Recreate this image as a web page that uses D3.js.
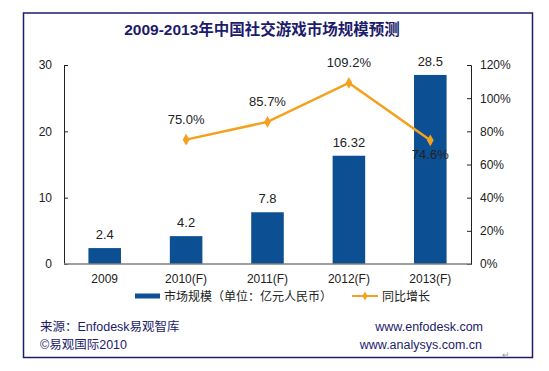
<!DOCTYPE html>
<html>
<head>
<meta charset="utf-8">
<script src="https://cdn.jsdelivr.net/npm/d3@7"></script>
<style>
	body { margin: 0; background: #fff; }
	svg text { font-family: Arial, "Liberation Sans", "Noto Sans CJK SC", sans-serif; }
</style>
</head>
<body>
<div id="chart"></div>
<script>
	var years = ["2009", "2010(F)", "2011(F)", "2012(F)", "2013(F)"],
		market = [2.4, 4.2, 7.8, 16.32, 28.5],
		marketLabels = ["2.4", "4.2", "7.8", "16.32", "28.5"],
		growth = [null, 75.0, 85.7, 109.2, 74.6],
		leftTicks = [0, 10, 20, 30],
		rightTicks = [0, 20, 40, 60, 80, 100, 120];

	(function() {
		'use strict';

		var width = 549,
			height = 371,
			left = 64,
			right = 471,
			top = 65,
			bottom = 264,
			navy = "#1c1c6a",
			blue = "#0c5093",
			orange = "#f5a01e",
			svg, x, y, y2, line, points, gl, gr, lg, ft;

		svg = d3.select("#chart")
			.append("svg")
			.attr("width", width)
			.attr("height", height);

		// frame
		svg.append("rect")
			.attr("x", 23.5)
			.attr("y", 13)
			.attr("width", 509)
			.attr("height", 344.5)
			.attr("fill", "none")
			.attr("stroke", navy)
			.attr("stroke-width", 1.5);

		svg.append("text")
			.attr("x", 262)
			.attr("y", 35)
			.attr("text-anchor", "middle")
			.attr("font-size", 15.5)
			.attr("font-weight", "bold")
			.attr("fill", navy)
			.text("2009-2013年中国社交游戏市场规模预测");

		x = d3.scaleBand()
			.domain(years)
			.range([left, right])
			.paddingInner(0.6)
			.paddingOuter(0.3);
		y = d3.scaleLinear().domain([0, 30]).range([bottom, top]);
		y2 = d3.scaleLinear().domain([0, 120]).range([bottom, top]);

		function cx(i) { return x(years[i]) + x.bandwidth() / 2; }

		// bars
		svg.append("g")
			.selectAll("rect")
			.data(market)
			.join("rect")
			.attr("x", function(d, i) { return x(years[i]); })
			.attr("y", function(d) { return y(d); })
			.attr("width", x.bandwidth())
			.attr("height", function(d) { return bottom - y(d); })
			.attr("fill", blue);

		svg.append("g")
			.selectAll("text")
			.data(market)
			.join("text")
			.attr("x", function(d, i) { return cx(i); })
			.attr("y", function(d) { return y(d) - 9; })
			.attr("text-anchor", "middle")
			.attr("font-size", 13)
			.attr("fill", "#222")
			.text(function(d, i) { return marketLabels[i]; });

		// left axis
		gl = svg.append("g")
			.attr("transform", "translate(" + left + ",0)")
			.call(d3.axisLeft(y).tickValues(leftTicks).tickSizeInner(-4).tickSizeOuter(-4).tickPadding(12));
		gl.select(".domain").attr("stroke", "#222");
		gl.selectAll(".tick line").attr("stroke", "#222");
		gl.selectAll("text").attr("font-size", 12).attr("fill", "#222").attr("font-family", "Arial, sans-serif");

		// right axis
		gr = svg.append("g")
			.attr("transform", "translate(" + right + ",0)")
			.call(d3.axisRight(y2).tickValues(rightTicks).tickSizeInner(-4).tickSizeOuter(-4).tickPadding(9)
				.tickFormat(function(d) { return d + "%"; }));
		gr.select(".domain").attr("stroke", "#222");
		gr.selectAll(".tick line").attr("stroke", "#222");
		gr.selectAll("text").attr("font-size", 12).attr("fill", "#222").attr("font-family", "Arial, sans-serif");

		// baseline
		svg.append("line")
			.attr("x1", left)
			.attr("x2", right)
			.attr("y1", y(0))
			.attr("y2", y(0))
			.attr("stroke", "#808080")
			.attr("stroke-width", 1.5);

		// x labels
		svg.append("g")
			.selectAll("text")
			.data(years)
			.join("text")
			.attr("x", function(d, i) { return cx(i); })
			.attr("y", 283)
			.attr("text-anchor", "middle")
			.attr("font-size", 12)
			.attr("fill", "#222")
			.text(function(d) { return d; });

		// growth line
		points = growth
			.map(function(d, i) { return {v: d, i: i}; })
			.filter(function(p) { return p.v !== null; });

		line = d3.line()
			.x(function(p) { return cx(p.i); })
			.y(function(p) { return y2(p.v); });

		svg.append("path")
			.datum(points)
			.attr("fill", "none")
			.attr("stroke", orange)
			.attr("stroke-width", 2.5)
			.attr("d", line);

		svg.append("g")
			.selectAll("path")
			.data(points)
			.join("path")
			.attr("transform", function(p) { return "translate(" + cx(p.i) + "," + y2(p.v) + ")"; })
			.attr("d", d3.symbol().type(d3.symbolDiamond).size(40))
			.attr("fill", orange);

		svg.append("g")
			.selectAll("text")
			.data(points)
			.join("text")
			.attr("x", function(p) { return cx(p.i); })
			.attr("y", function(p) { return p.i === 4 ? y2(p.v) + 19 : y2(p.v) - 16; })
			.attr("text-anchor", "middle")
			.attr("font-size", 13)
			.attr("fill", "#222")
			.text(function(p) { return p.v.toFixed(1) + "%"; });

		// legend
		lg = svg.append("g");
		lg.append("rect")
			.attr("x", 135).attr("y", 293.5)
			.attr("width", 25).attr("height", 5)
			.attr("fill", blue);
		lg.append("text")
			.attr("x", 164).attr("y", 300.5)
			.attr("font-size", 12).attr("fill", "#222")
			.text("市场规模（单位：亿元人民币）");
		lg.append("line")
			.attr("x1", 352).attr("x2", 378)
			.attr("y1", 296).attr("y2", 296)
			.attr("stroke", orange).attr("stroke-width", 2);
		lg.append("path")
			.attr("transform", "translate(365,296)")
			.attr("d", d3.symbol().type(d3.symbolDiamond).size(24))
			.attr("fill", orange);
		lg.append("text")
			.attr("x", 382).attr("y", 300.5)
			.attr("font-size", 12).attr("fill", "#222")
			.text("同比增长");

		// footer
		ft = svg.append("g").attr("font-size", 12.5).attr("fill", navy);
		ft.append("text").attr("x", 40).attr("y", 331).text("来源：Enfodesk易观智库");
		ft.append("text").attr("x", 40).attr("y", 349).text("©易观国际2010");
		ft.append("text").attr("x", 483).attr("y", 331).attr("text-anchor", "end").text("www.enfodesk.com");
		ft.append("text").attr("x", 482).attr("y", 349).attr("text-anchor", "end").text("www.analysys.com.cn");
		svg.append("text").attr("x", 502).attr("y", 358)
			.attr("font-size", 9).attr("fill", "#999").text("↵");
	})();
</script>
</body>
</html>
